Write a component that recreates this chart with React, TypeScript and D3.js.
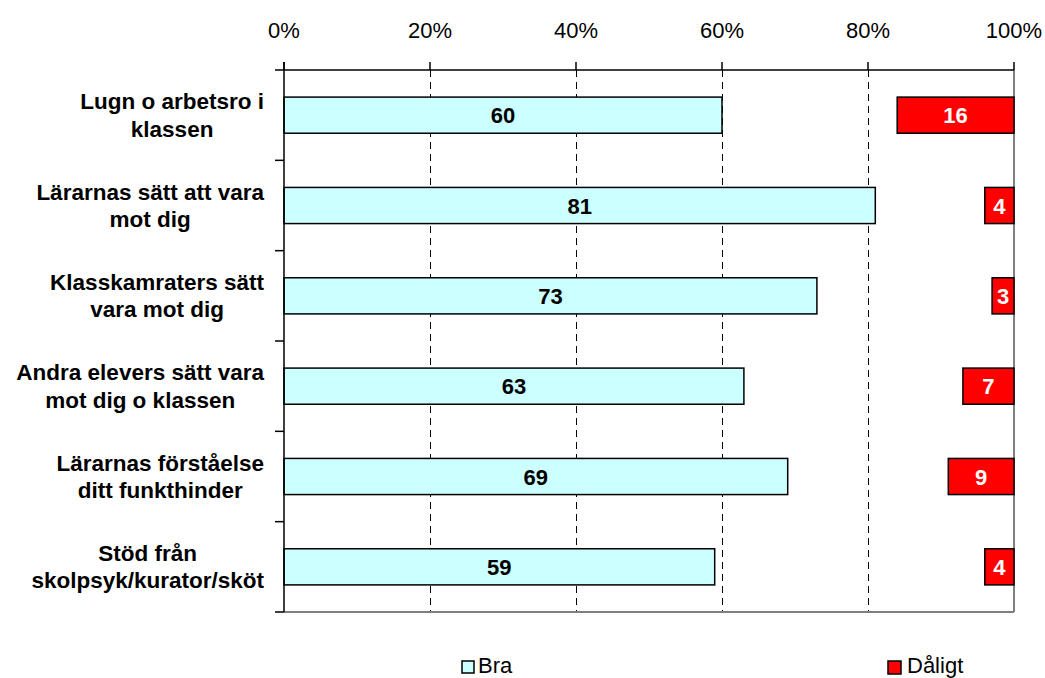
import React from "react";
import * as d3 from "d3";

const categories: string[][] = [
  ["Lugn o arbetsro i", "klassen"],
  ["Lärarnas sätt att vara", "mot dig"],
  ["Klasskamraters sätt", "vara mot dig"],
  ["Andra elevers sätt vara", "mot dig o klassen"],
  ["Lärarnas förståelse", "ditt funkthinder"],
  ["Stöd från", "skolpsyk/kurator/sköt"],
];
const bra: number[] = [60, 81, 73, 63, 69, 59];
const daligt: number[] = [16, 4, 3, 7, 9, 4];
const ticks: number[] = [0, 20, 40, 60, 80, 100];
const seriesNames = ["Bra", "Dåligt"];
const colors = ["#CCFFFF", "#FF0000"];

const W = 1045;
const H = 678;
const FONT = "'Liberation Sans', Arial, sans-serif";

function measure(text: string, font: string): number {
  const c = document.createElement("canvas");
  const ctx = c.getContext("2d");
  if (!ctx) return text.length * 11;
  ctx.font = font;
  return ctx.measureText(text).width;
}

export default function App() {
  const x = d3.scaleLinear().domain([0, 100]).range([284, 1014]);
  const keys = categories.map((_, i) => String(i));
  const row = d3.scaleBand<string>().domain(keys).range([70, 612]).paddingInner(0).paddingOuter(0);
  const y = d3.scaleBand<string>().domain(keys).range([70, 612]).paddingInner(0.6).paddingOuter(0.3);
  const LFS = 22.5;
  const labelFont = `bold ${LFS}px ${FONT}`;
  const labelRight = 264;

  return (
    <svg width={W} height={H} style={{ position: "absolute", left: 0, top: 0, background: "#fff" }}>
      {/* gridlines */}
      {ticks.slice(1, -1).map((t) => (
        <line key={"g" + t} x1={x(t) + 0.5} x2={x(t) + 0.5} y1={70} y2={612} stroke="#000" strokeWidth={1} strokeDasharray="7,5" />
      ))}
      {/* right & bottom border */}
      <line x1={x(100)} x2={x(100)} y1={70} y2={612} stroke="#808080" strokeWidth={2} />
      <line x1={x(0)} x2={x(100)} y1={612} y2={612} stroke="#808080" strokeWidth={2} />
      {/* bars */}
      {bra.map((v, i) => (
        <rect key={"b" + i} x={x(0)} y={y(keys[i])!} width={x(v) - x(0)} height={y.bandwidth()} fill={colors[0]} stroke="#000" strokeWidth={1.5} />
      ))}
      {daligt.map((v, i) => (
        <rect key={"d" + i} x={x(100 - v)} y={y(keys[i])!} width={x(100) - x(100 - v)} height={y.bandwidth()} fill={colors[1]} stroke="#000" strokeWidth={1.5} />
      ))}
      {bra.map((v, i) => (
        <text key={"bl" + i} x={(x(0) + x(v)) / 2} y={y(keys[i])! + y.bandwidth() / 2 + 8} textAnchor="middle" fontFamily={FONT} fontWeight="bold" fontSize={22} fill="#000">{v}</text>
      ))}
      {daligt.map((v, i) => (
        <text key={"dl" + i} x={(x(100 - v) + x(100)) / 2} y={y(keys[i])! + y.bandwidth() / 2 + 8} textAnchor="middle" fontFamily={FONT} fontWeight="bold" fontSize={22} fill="#fff">{v}</text>
      ))}
      {/* axes */}
      <line x1={x(0)} x2={x(0)} y1={62} y2={612} stroke="#000" strokeWidth={1.5} />
      <line x1={275} x2={x(100)} y1={70} y2={70} stroke="#000" strokeWidth={1.5} />
      {ticks.map((t) => (
        <g key={"t" + t}>
          <line x1={x(t)} x2={x(t)} y1={62} y2={70} stroke="#000" strokeWidth={1.5} />
          <text x={x(t)} y={38} textAnchor="middle" fontFamily={FONT} fontSize={22} fill="#000">{t}%</text>
        </g>
      ))}
      {keys.map((k, i) => (
        <line key={"lt" + i} x1={275} x2={x(0)} y1={row(k)! + row.bandwidth()} y2={row(k)! + row.bandwidth()} stroke="#000" strokeWidth={1.5} />
      ))}
      {/* category labels */}
      {categories.map((lines, i) => {
        const wMax = Math.max(...lines.map((l) => measure(l, labelFont)));
        const cx = labelRight - wMax / 2;
        const c = row(keys[i])! + row.bandwidth() / 2;
        return (
          <text key={"c" + i} textAnchor="middle" fontFamily={FONT} fontWeight="bold" fontSize={LFS} fill="#000">
            <tspan x={cx} y={c - 6}>{lines[0]}</tspan>
            <tspan x={cx} y={c + 21.5}>{lines[1]}</tspan>
          </text>
        );
      })}
      {/* legend */}
      <rect x={462} y={661} width={12} height={12} fill={colors[0]} stroke="#000" strokeWidth={1.5} />
      <text x={478} y={673} fontFamily={FONT} fontSize={22} fill="#000">{seriesNames[0]}</text>
      <rect x={888} y={661} width={13} height={13} fill={colors[1]} stroke="#000" strokeWidth={1.5} />
      <text x={907} y={673} fontFamily={FONT} fontSize={22} fill="#000">{seriesNames[1]}</text>
    </svg>
  );
}
